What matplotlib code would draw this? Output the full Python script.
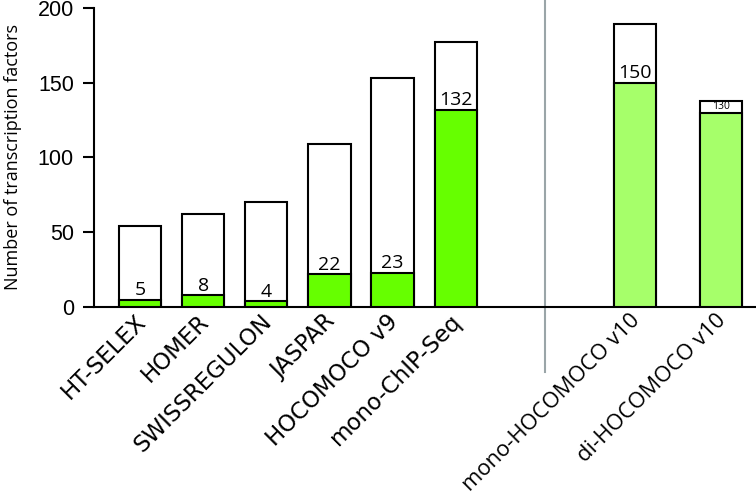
import matplotlib
matplotlib.use('Agg')
import matplotlib.pyplot as plt
import matplotlib.transforms as mtransforms

# Data
labels_a = ['HT-SELEX', 'HOMER', 'SWISSREGULON', 'JASPAR', 'HOCOMOCO v9', 'mono-ChIP-Seq']
totals_a = [54, 62, 70, 109, 153, 177]
hits_a = [5, 8, 4, 22, 23, 132]

labels_b = ['mono-HOCOMOCO v10', 'di-HOCOMOCO v10']
totals_b = [189, 138]
hits_b = [150, 130]

green_a = '#66FF00'
green_b = '#A6FF6A'

fig = plt.figure(figsize=(7.56, 4.97), dpi=100)
ax = fig.add_axes([0.1243, 0.3823, 0.8757, 0.6016])

# layout: first group at unit spacing, second group after the divider
pos_a = list(range(len(labels_a)))
pos_b = [7.84, 9.2]
width = 0.67

ax.bar(pos_a, totals_a, width, color='white', edgecolor='black', linewidth=1.5, zorder=2)
ax.bar(pos_a, hits_a, width, color=green_a, edgecolor='black', linewidth=1.5, zorder=3)
ax.bar(pos_b, totals_b, width, color='white', edgecolor='black', linewidth=1.5, zorder=2)
ax.bar(pos_b, hits_b, width, color=green_b, edgecolor='black', linewidth=1.5, zorder=3)

for x, h in zip(pos_a + pos_b[:1], hits_a + hits_b[:1]):
    ax.text(x, h + 0.3, str(h), ha='center', va='bottom', fontsize=14,
            family='Open Sans', zorder=4)
# the small one sits inside its narrow white segment
ax.text(pos_b[1], (hits_b[1] + totals_b[1]) / 2, str(hits_b[1]), ha='center',
        va='center', fontsize=7.5, family='Open Sans', zorder=4)

# divider between the groups, running past the axis
trans = mtransforms.blended_transform_factory(ax.transData, ax.transAxes)
ax.plot([6.41, 6.41], [-0.217, 1.027], transform=trans, color='#9AA5A8',
        linewidth=1.5, clip_on=False, zorder=1)

ax.set_xlim(-0.727, 9.75)
ax.set_ylim(0, 200)
ax.set_yticks([0, 50, 100, 150, 200])
ax.tick_params(axis='y', labelsize=15.5, length=8, width=1.5, pad=6.5)
for t in ax.get_yticklabels():
    t.set_family('Liberation Sans')
ax.tick_params(axis='x', length=0, pad=0)
ax.set_xticks(pos_a + pos_b)
ax.set_xticklabels(labels_a + labels_b, rotation=45, ha='right', va='top',
                   rotation_mode='anchor', fontsize=16.5)
offset = mtransforms.ScaledTranslation(-6 / 100, -3 / 100, fig.dpi_scale_trans)
for i, t in enumerate(ax.get_xticklabels()):
    t.set_transform(t.get_transform() + offset)
    t.set_family('DejaVu Sans' if i < len(labels_a) else 'Open Sans')
    if i >= len(labels_a):
        t.set_fontsize(15.8)

ax.spines['top'].set_visible(False)
ax.spines['right'].set_visible(False)
ax.spines['left'].set_linewidth(1.5)
ax.spines['bottom'].set_linewidth(1.5)

ax.set_ylabel('Number of transcription factors', fontsize=13, family='Open Sans')
ax.yaxis.set_label_coords(-0.109, 0.5)

fig.savefig('out.png', dpi=100)
